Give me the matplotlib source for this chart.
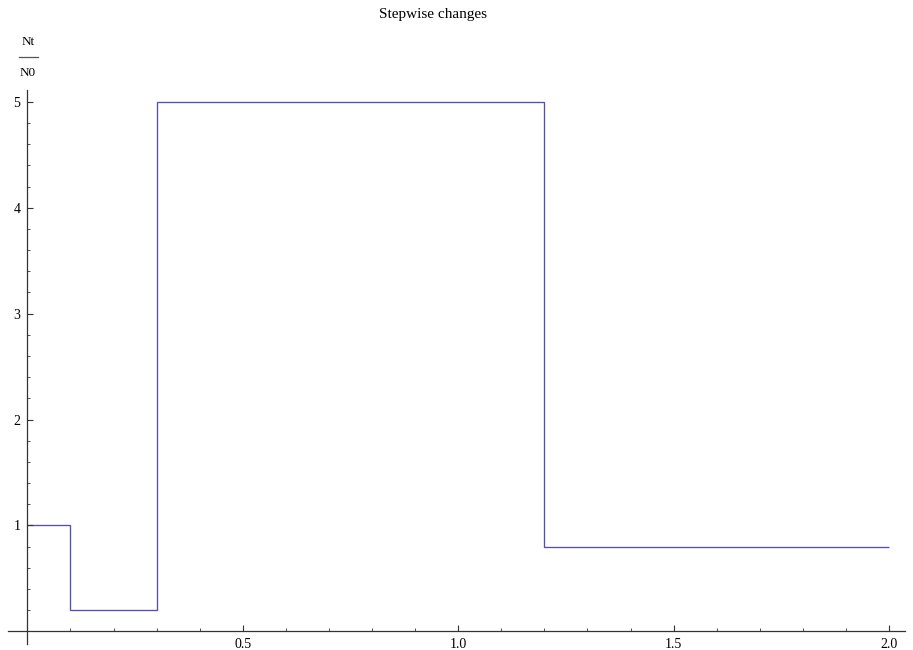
import matplotlib
matplotlib.use("Agg")
import matplotlib.pyplot as plt
from matplotlib.lines import Line2D
from matplotlib.ticker import MultipleLocator, FixedLocator

plt.rcParams["font.family"] = ["Liberation Serif", "DejaVu Serif"]

# step edges (time) and level Nt/N0 inside each interval
edges = [0.0, 0.1, 0.3, 1.2, 2.0]
levels = [1.0, 0.2, 5.0, 0.8]
x_ticks = [0.5, 1.0, 1.5, 2.0]
y_ticks = [1, 2, 3, 4, 5]

fig = plt.figure(figsize=(9.13, 6.5), dpi=100)
ax = fig.add_axes([0.00876, 0.00923, 0.9825, 0.852])

ax.stairs(levels, edges, baseline=None, color="#5050b0", linewidth=0.95)

ax.set_xlim(-0.045, 2.037)
ax.set_ylim(-0.12, 5.11)

for s in ("top", "right"):
    ax.spines[s].set_visible(False)
for s in ("left", "bottom"):
    ax.spines[s].set_position(("data", 0))
    ax.spines[s].set_color("#333333")
    ax.spines[s].set_linewidth(0.9)

ax.xaxis.set_major_locator(FixedLocator(x_ticks))
ax.xaxis.set_minor_locator(MultipleLocator(0.1))
ax.yaxis.set_major_locator(FixedLocator(y_ticks))
ax.yaxis.set_minor_locator(MultipleLocator(0.2))
ax.set_xticklabels([f"{v:.1f}" for v in x_ticks])
ax.set_yticklabels([str(v) for v in y_ticks])

ax.tick_params(which="major", direction="in", length=4, width=0.8, color="#333333",
               labelsize=10, pad=5)
ax.tick_params(which="minor", direction="in", length=2.5, width=0.6, color="#333333")
ax.tick_params(axis="y", which="major", pad=5)

# title and Nt/N0 fraction label
fig.text(0.474, 0.978, "Stepwise changes", ha="center", va="center", fontsize=11)
fig.text(28 / 913, 1 - 42 / 650, "Nt", ha="center", va="center", fontsize=9.5)
fig.text(28 / 913, 1 - 73 / 650, "N0", ha="center", va="center", fontsize=9.5)
fig.add_artist(Line2D([19 / 913, 38 / 913], [1 - 57 / 650, 1 - 57 / 650],
                      transform=fig.transFigure, color="#555555", linewidth=0.9))

fig.savefig("out.png", dpi=100)
